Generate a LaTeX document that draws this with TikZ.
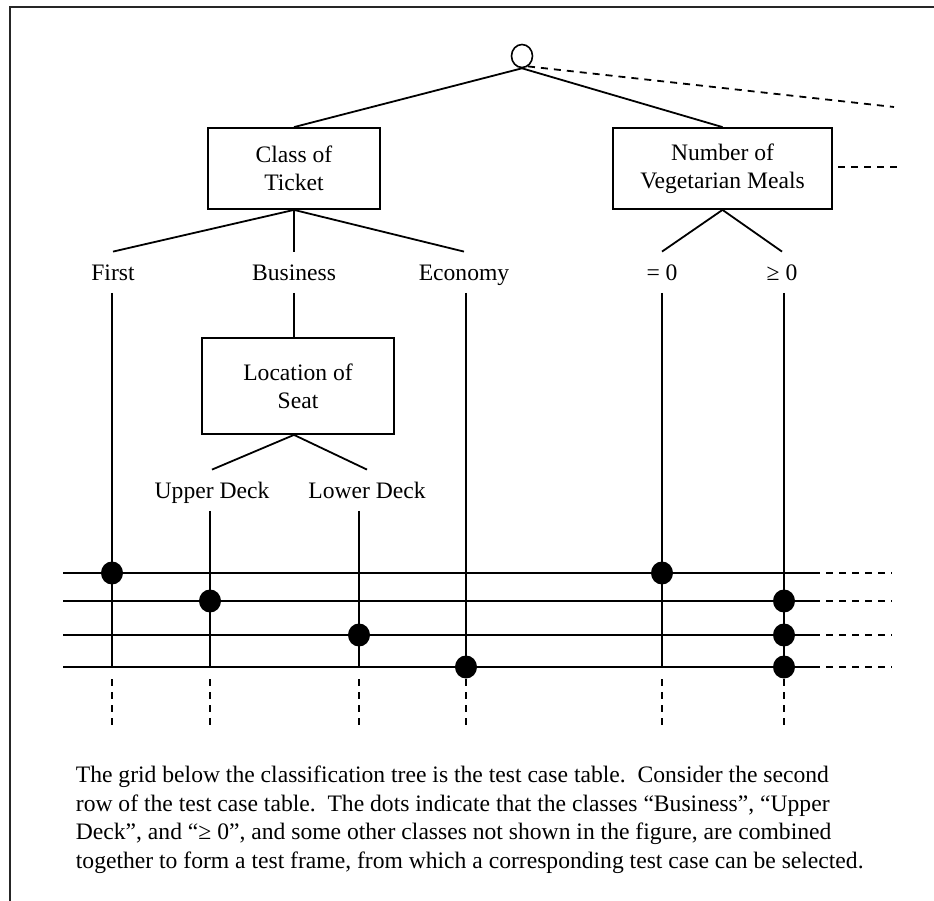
\documentclass[tikz,border=0pt]{standalone}
\usepackage{fontspec}
\setmainfont{Liberation Serif}
\usetikzlibrary{shapes.geometric}
\begin{document}
\begin{tikzpicture}[x=1pt,y=-1pt,line width=1.8pt,
  txt/.style={font=\fontsize{23.6}{28}\selectfont},
  box/.style={draw,rectangle,txt,align=center,inner sep=0pt,minimum height=81pt},
  lbl/.style={txt,inner xsep=0pt,inner ysep=12pt,text height=15.5pt,text depth=0pt},
  dot/.style={ellipse,fill=black,draw=none,minimum width=22pt,minimum height=23pt,inner sep=0pt},
  dsh/.style={dash pattern=on 7pt off 6pt},
  frame/.style={line width=2pt,draw=black!85}
]
\path[use as bounding box,fill=white] (0,0) rectangle (934,901);

% frame (top and left only)
\coordinate (fBL) at (10,901);
\coordinate (fTL) at (10,7);
\coordinate (fTR) at (934,7);
\draw[frame] (fBL) -- (fTL) -- (fTR);

% tree
\node[draw,ellipse,minimum width=21pt,minimum height=23pt,inner sep=0pt,line width=1.6pt] (root) at (522,56) {};
\node[box,minimum width=172pt] (cot) at (294,168.5) {Class of\\Ticket};
\node[box,minimum width=219pt] (nvm) at (722.5,168.5) {Number of\\Vegetarian Meals};
\node[box,minimum width=192pt,minimum height=96pt] (los) at (298,386) {Location of\\Seat};

\coordinate (rootdash) at (894,107);
\coordinate (nvmdashA) at (838,167);
\coordinate (nvmdashB) at (898,167);

\node[lbl,anchor=base] (first) at (113,280) {First};
\node[lbl,anchor=base] (business) at (294,280) {Business};
\node[lbl,anchor=base] (economy) at (464,280) {Economy};
\node[lbl,anchor=base] (eq) at (662,280) {= 0};
\node[lbl,anchor=base] (ge) at (782,280) {≥ 0};
\node[lbl,anchor=base] (upper) at (212,498) {Upper Deck};
\node[lbl,anchor=base] (lower) at (367,498) {Lower Deck};

\draw (root.south) -- (cot.north);
\draw (root.south) -- (nvm.north);
\draw[dsh] (root.-60) -- (rootdash);
\draw[dsh] (nvmdashA) -- (nvmdashB);

\draw (cot.south) -- (first.north);
\draw (cot.south) -- (business.north);
\draw (cot.south) -- (economy.north);
\draw (nvm.south) -- (eq.north);
\draw (nvm.south) -- (ge.north);
\draw (business.south) -- (business.south |- los.north);
\draw (los.south -| business.south) -- (upper.north);
\draw (los.south -| business.south) -- (lower.north);

% columns and rows
\coordinate (c1) at (112,0);
\coordinate (c2) at (210,0);
\coordinate (c3) at (359,0);
\coordinate (c4) at (466,0);
\coordinate (c5) at (662,0);
\coordinate (c6) at (784,0);
\coordinate (r1) at (63,573);
\coordinate (r2) at (63,601);
\coordinate (r3) at (63,635);
\coordinate (r4) at (63,667);
\coordinate (xe) at (813,0);
\coordinate (xd) at (892,0);
\coordinate (b1) at (0,679);
\coordinate (b2) at (0,727);

\foreach \r in {r1,r2,r3,r4}{
  \draw (\r) -- (xe |- \r);
  \draw[dsh] (xe |- \r) -- (xd |- \r);
}

\draw (c1 |- first.south) -- (c1 |- r4);
\draw (c2 |- upper.south) -- (c2 |- r4);
\draw (c3 |- lower.south) -- (c3 |- r4);
\draw (c4 |- economy.south) -- (c4 |- r4);
\draw (c5 |- eq.south) -- (c5 |- r4);
\draw (c6 |- ge.south) -- (c6 |- r4);

\foreach \c in {c1,c2,c3,c4,c5,c6}{
  \draw[dsh] (\c |- b1) -- (\c |- b2);
}

\node[dot] (d1) at (c1 |- r1) {};
\node[dot] (d2) at (c5 |- r1) {};
\node[dot] (d3) at (c2 |- r2) {};
\node[dot] (d4) at (c6 |- r2) {};
\node[dot] (d5) at (c3 |- r3) {};
\node[dot] (d6) at (c6 |- r3) {};
\node[dot] (d7) at (c4 |- r4) {};
\node[dot] (d8) at (c6 |- r4) {};

\node[anchor=north west,inner sep=0pt,align=left,font=\fontsize{23.6}{28.6}\selectfont] (para) at (75,765) {%
The grid below the classification tree is the test case table.\ \ Consider the second\\
row of the test case table.\ \ The dots indicate that the classes “Business”, “Upper\\
Deck”, and “≥ 0”, and some other classes not shown in the figure, are combined\\
together to form a test frame, from which a corresponding test case can be selected.};
\end{tikzpicture}
\end{document}
